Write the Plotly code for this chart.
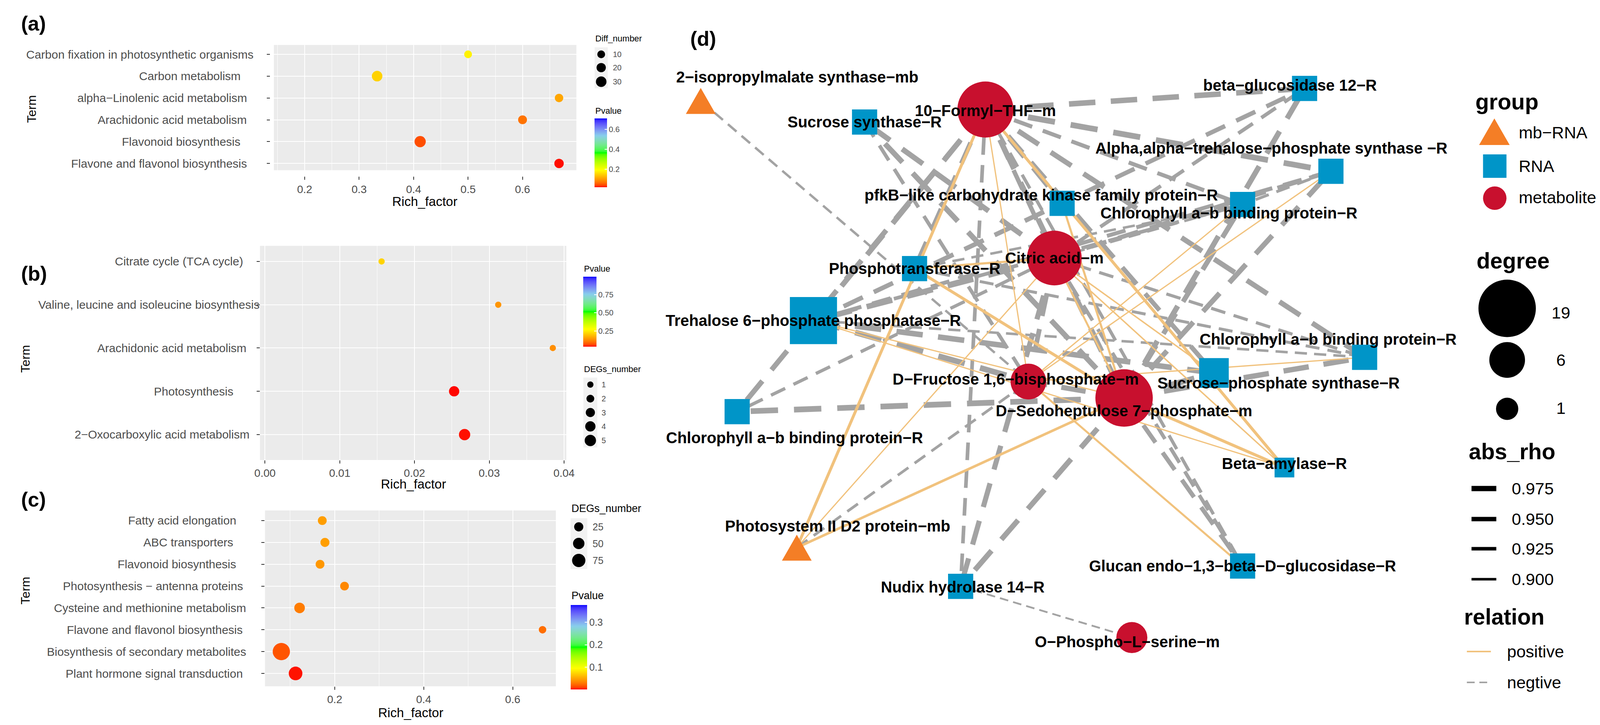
import math
import plotly.graph_objects as go

W, H = 4142, 1855
FONT = "Liberation Sans, Arial, Helvetica, sans-serif"
MINUS = "\u2212"

# ---------------- panel (a) data ----------------
a_terms = [
    "Carbon fixation in photosynthetic organisms",
    "Carbon metabolism    ",
    "alpha-Linolenic acid metabolism  ",
    "Arachidonic acid metabolism  ",
    "Flavonoid biosynthesis    ",
    "Flavone and flavonol biosynthesis  ",
]
a_rich = [0.500, 0.333, 0.667, 0.600, 0.412, 0.667]
a_diff_number = [10, 30, 14, 17, 36, 21]
a_pvalue = [0.18, 0.15, 0.11, 0.068, 0.044, 0.023]
a_x_ticks = [0.2, 0.3, 0.4, 0.5, 0.6]
a_size_breaks = [10, 20, 30]
a_p_breaks = [0.2, 0.4, 0.6]

# ---------------- panel (b) data ----------------
b_terms = [
    "Citrate cycle (TCA cycle)     ",
    "Valine, leucine and isoleucine biosynthesis",
    "Arachidonic acid metabolism    ",
    "Photosynthesis        ",
    "2-Oxocarboxylic acid metabolism   ",
]
b_rich = [0.0156, 0.0312, 0.0385, 0.0253, 0.0267]
b_degs_number = [1, 1, 1, 4, 5]
b_pvalue = [0.215, 0.138, 0.130, 0.034, 0.037]
b_x_ticks = [0.00, 0.01, 0.02, 0.03, 0.04]
b_size_breaks = [1, 2, 3, 4, 5]
b_p_breaks = [0.25, 0.50, 0.75]

# ---------------- panel (c) data ----------------
c_terms = [
    "Fatty acid elongation   ",
    "ABC transporters    ",
    "Flavonoid biosynthesis   ",
    "Photosynthesis - antenna proteins ",
    "Cysteine and methionine metabolism",
    "Flavone and flavonol biosynthesis ",
    "Biosynthesis of secondary metabolites",
    "Plant hormone signal transduction ",
]
c_rich = [0.172, 0.178, 0.167, 0.222, 0.121, 0.667, 0.080, 0.112]
c_degs_number = [22, 24, 22, 21, 40, 10, 140, 80]
c_pvalue = [0.046, 0.046, 0.043, 0.036, 0.031, 0.025, 0.016, 0.003]
c_x_ticks = [0.2, 0.4, 0.6]
c_size_breaks = [25, 50, 75]
c_p_breaks = [0.1, 0.2, 0.3]

# ---------------- panel (d) network data ----------------
node_id = ["IP", "F", "SS", "BG", "AA", "PK", "CU", "C", "PT", "TP",
           "CR", "SP", "DF", "DS", "CL", "BA", "PS", "GL", "NU", "OP"]
node_label = [
    "2-isopropylmalate synthase-mb", "10-Formyl-THF-m", "Sucrose synthase-R",
    "beta-glucosidase 12-R", "Alpha,alpha-trehalose-phosphate synthase -R",
    "pfkB-like carbohydrate kinase family protein-R", "Chlorophyll a-b binding protein-R",
    "Citric acid-m", "Phosphotransferase-R", "Trehalose 6-phosphate phosphatase-R",
    "Chlorophyll a-b binding protein-R", "Sucrose-phosphate synthase-R",
    "D-Fructose 1,6-bisphosphate-m", "D-Sedoheptulose 7-phosphate-m",
    "Chlorophyll a-b binding protein-R", "Beta-amylase-R", "Photosystem II D2 protein-mb",
    "Glucan endo-1,3-beta-D-glucosidase-R", "Nudix hydrolase 14-R", "O-Phospho-L-serine-m",
]
node_group = ["mb-RNA", "metabolite", "RNA", "RNA", "RNA", "RNA", "RNA", "metabolite", "RNA", "RNA",
              "RNA", "RNA", "metabolite", "metabolite", "RNA", "RNA", "mb-RNA", "RNA", "RNA", "metabolite"]
node_x = [0.37, 7.72, 4.60, 15.96, 16.64, 9.70, 14.36, 9.50, 5.89, 3.28,
          17.51, 13.62, 8.83, 11.30, 1.31, 15.44, 2.85, 14.36, 7.08, 11.50]
node_y = [15.12, 14.90, 14.58, 15.44, 13.32, 12.50, 12.47, 11.10, 10.83, 9.50,
          8.56, 8.16, 7.94, 7.52, 7.17, 5.74, 3.69, 3.22, 2.70, 1.39]
node_degree = [1, 18, 3, 3, 3, 3, 3, 17, 3, 16, 3, 5, 6, 19, 3, 1, 1, 3, 3, 4]

edge_from = ["IP", "F", "F", "F", "F", "F", "F", "F", "F", "F", "F", "F", "F", "F",
             "C", "C", "C", "C", "C", "C", "C", "C", "C", "C",
             "DS", "DS", "DS", "DS", "DS", "DS", "DS", "DS", "DS", "DS",
             "TP", "TP", "TP", "TP", "TP", "TP", "TP", "PT", "PT", "AA", "SS", "PS", "NU",
             "F", "F", "F", "PT", "PT", "TP", "TP", "PS", "PS", "DF", "C", "PK", "AA", "CU", "CR",
             "DS", "C", "C"]
edge_to = ["DF", "BG", "AA", "CU", "CR", "TP", "CL", "NU", "DS", "PT", "PK", "C", "SP", "GL",
           "TP", "CL", "BG", "CU", "CR", "NU", "GL", "SS", "AA", "DF",
           "SS", "BG", "AA", "CU", "CR", "CL", "NU", "GL", "SP", "DF",
           "DF", "SP", "PK", "AA", "CR", "CU", "BG", "CR", "CU", "CU", "DF", "DF", "OP",
           "PS", "BA", "DF", "DS", "C", "DS", "BA", "C", "DS", "GL", "DS", "DS", "DF", "DF", "DF",
           "BA", "BA", "SP"]
edge_rho = [0.895, 0.980, 0.985, 0.940, 0.970, 0.975, 0.970, 0.930, 0.975, 0.960, 0.965, 0.950, 0.955, 0.920,
            0.980, 0.920, 0.930, 0.900, 0.915, 0.970, 0.930, 0.975, 0.950, 0.960,
            0.975, 0.975, 0.970, 0.965, 0.975, 0.985, 0.975, 0.950, 0.990, 0.970,
            0.985, 0.980, 0.950, 0.940, 0.900, 0.930, 0.950, 0.910, 0.900, 0.910, 0.930, 0.905, 0.880,
            0.910, 0.910, 0.865, 0.910, 0.890, 0.865, 0.865, 0.865, 0.900, 0.885, 0.885, 0.890,
            0.865, 0.865, 0.865, 0.910, 0.870, 0.870]
edge_relation = ["negtive"] * 47 + ["positive"] * 18

degree_breaks = [19, 6, 1]
rho_breaks = [0.975, 0.950, 0.925, 0.900]
group_levels = ["mb-RNA", "RNA", "metabolite"]
relation_levels = ["positive", "negtive"]

# ---------------- styles ----------------
GROUP_COLOR = {"mb-RNA": "#F47E26", "RNA": "#0095C8", "metabolite": "#C8102E"}
REL_COLOR = {"positive": "#F1C27D", "negtive": "#A3A3A3"}
TEXT_GREY = "#4D4D4D"
PANEL_BG = "#EBEBEB"

# label offsets (pixels) relative to node centre, as placed in the original figure
label_shift = {"IP": (247, 61), "F": (0, -3), "SS": (0, 0), "BG": (-37, 8), "AA": (-152, 59),
               "PK": (-54, 21), "CU": (-35, -22), "C": (0, 0), "PT": (0, 0), "TP": (0, 0),
               "CR": (-93, 46), "SP": (165, -26), "DF": (-33, 6), "DS": (0, -33), "CL": (147, -67),
               "BA": (0, 10), "PS": (105, 55), "GL": (0, 0), "NU": (5, -2), "OP": (-11, -11)}


def disp(s):
    n = len(s) - len(s.rstrip())
    return s.rstrip().replace("-", MINUS) + "\u00a0" * n


# ---- Lab interpolated gradient (like ggplot2 scale_colour_gradientn) ----
def _hex(c):
    c = c.lstrip("#")
    return [int(c[i:i + 2], 16) for i in (0, 2, 4)]


def _lin(v):
    v = v / 255.0
    return v / 12.92 if v <= 0.04045 else ((v + 0.055) / 1.055) ** 2.4


def _f(t):
    return t ** (1 / 3) if t > 0.008856 else 7.787 * t + 16 / 116


def _finv(t):
    return t ** 3 if t ** 3 > 0.008856 else (t - 16 / 116) / 7.787


def rgb2lab(c):
    r, g, b = [_lin(v) for v in _hex(c)]
    X = (0.4124 * r + 0.3576 * g + 0.1805 * b) / 0.95047
    Y = 0.2126 * r + 0.7152 * g + 0.0722 * b
    Z = (0.0193 * r + 0.1192 * g + 0.9505 * b) / 1.08883
    return 116 * _f(Y) - 16, 500 * (_f(X) - _f(Y)), 200 * (_f(Y) - _f(Z))


def lab2rgb(L, a, b):
    fy = (L + 16) / 116
    X = 0.95047 * _finv(fy + a / 500)
    Y = _finv(fy)
    Z = 1.08883 * _finv(fy - b / 200)
    rgb = [3.2406 * X - 1.5372 * Y - 0.4986 * Z,
           -0.9689 * X + 1.8758 * Y + 0.0415 * Z,
           0.0557 * X - 0.2040 * Y + 1.0570 * Z]
    out = []
    for v in rgb:
        v = 12.92 * v if v <= 0.0031308 else 1.055 * (max(v, 0) ** (1 / 2.4)) - 0.055
        out.append(int(round(max(0, min(1, v)) * 255)))
    return "rgb(%d,%d,%d)" % tuple(out)


def gradientn(colors, n=60):
    labs = [rgb2lab(c) for c in colors]
    k = len(colors) - 1
    scale = []
    for i in range(n + 1):
        t = i / n
        seg = min(int(t * k), k - 1)
        u = t * k - seg
        L = [labs[seg][j] + (labs[seg + 1][j] - labs[seg][j]) * u for j in range(3)]
        scale.append([t, lab2rgb(*L)])
    return scale


CS = gradientn(["#FF0000", "#FFFF00", "#00FF00", "#87CEEB", "#0000FF"])


def size_a(v):
    return math.sqrt(236 + 16.4 * v)


def size_b(v):
    return math.sqrt(110 + 146 * v)


def size_c(v):
    return math.sqrt(244 + 12.2 * v)


def node_diam(deg):
    return math.sqrt(2229 + 1020 * deg)


def edge_width(rho):
    return max(2.0, 6.5 + (rho - 0.9) * 95)


def dash_for(w):
    return "%.1fpx,%.1fpx" % (4.8 * w, 2.8 * w)


def px(xp, yp):
    return xp / W, 1 - yp / H


fig = go.Figure()
annotations = []
shapes = []


def ann(text, xp, yp, size, color="black", xanchor="left", yanchor="middle", bold=False, angle=0):
    x, y = px(xp, yp)
    annotations.append(dict(text=("<b>%s</b>" % text) if bold else text, x=x, y=y, xref="paper",
                            yref="paper", showarrow=False, xanchor=xanchor, yanchor=yanchor,
                            textangle=angle, font=dict(family=FONT, size=size, color=color)))


def colorbar(xp, ytop, length, thick, vals, texts, fsize):
    return dict(x=xp / W, xanchor="left", y=1 - ytop / H, yanchor="top", len=length, lenmode="pixels",
                thickness=thick, thicknessmode="pixels", xpad=0, ypad=0, outlinewidth=0,
                tickmode="array", tickvals=vals, ticktext=texts, ticks="inside", ticklen=6,
                tickwidth=2, tickcolor="white",
                tickfont=dict(family=FONT, size=fsize, color=TEXT_GREY), title=dict(text=""))


# ---------------- enrichment panels ----------------
panels = [
    dict(key="", terms=a_terms, rich=a_rich, cnt=a_diff_number, p=a_pvalue, sizef=size_a,
         xdom=(685, 1466), ydom=(107, 427.5), xr=(0.1435, 0.6989), yr=(-0.31, 5.43),
         xt=a_x_ticks, xtt=["0.2", "0.3", "0.4", "0.5", "0.6"],
         minor=[0.15, 0.25, 0.35, 0.45, 0.55, 0.65], free=True, xpos=443, ypos=675, lab_x=634.5,
         cmin=0.02, cmax=0.71, cb=(1513, 295, 176, 32), pb=a_p_breaks, pbt=["0.2", "0.4", "0.6"], cbf=20),
    dict(key="2", terms=b_terms, rich=b_rich, cnt=b_degs_number, p=b_pvalue, sizef=size_b,
         xdom=(649, 1440), ydom=(621, 1169), xr=(-0.00067, 0.04031), yr=(-0.587, 4.36),
         xt=b_x_ticks, xtt=["0.00", "0.01", "0.02", "0.03", "0.04"],
         minor=[0.005, 0.015, 0.025, 0.035], free=False, lab_x=649,
         cmin=0.032, cmax=0.996, cb=(1484, 700, 179, 34), pb=b_p_breaks, pbt=["0.25", "0.50", "0.75"], cbf=20),
    dict(key="3", terms=c_terms, rich=c_rich, cnt=c_degs_number, p=c_pvalue, sizef=size_c,
         xdom=(662, 1413), ydom=(1298, 1748), xr=(0.0433, 0.697), yr=(-0.59, 7.465),
         xt=c_x_ticks, xtt=["0.2", "0.4", "0.6"],
         minor=[0.1, 0.3, 0.5], free=False, lab_x=615,
         cmin=0.0007, cmax=0.377, cb=(1451, 1540, 216, 42), pb=c_p_breaks, pbt=["0.1", "0.2", "0.3"], cbf=25),
]

layout_axes = {}
for pn in panels:
    k = pn["key"]
    xa, ya = "x" + k, "y" + k
    fig.add_trace(go.Scatter(
        x=pn["rich"], y=pn["terms"], xaxis=xa, yaxis=ya, mode="markers", hoverinfo="skip",
        cliponaxis=False, opacity=1,
        marker=dict(size=[pn["sizef"](v) for v in pn["cnt"]], color=pn["p"], colorscale=CS,
                    cmin=pn["cmin"], cmax=pn["cmax"], showscale=True, line=dict(width=0), opacity=1,
                    colorbar=colorbar(*pn["cb"], pn["pb"], pn["pbt"], pn["cbf"]))))
    xaxis = dict(domain=[pn["xdom"][0] / W, pn["xdom"][1] / W], range=list(pn["xr"]),
                 tickmode="array", tickvals=pn["xt"], ticktext=pn["xtt"], ticks="outside",
                 ticklen=8, tickwidth=2, tickcolor="#333333", showgrid=True, gridcolor="white",
                 gridwidth=2.4, zeroline=False, showline=False,
                 minor=dict(tickvals=pn["minor"], showgrid=True, gridcolor="white", gridwidth=1.2, ticks=""),
                 tickfont=dict(family=FONT, size=28, color=TEXT_GREY), fixedrange=True)
    yaxis = dict(domain=[1 - pn["ydom"][1] / H, 1 - pn["ydom"][0] / H], type="category",
                 categoryorder="array", categoryarray=pn["terms"][::-1], range=list(pn["yr"]),
                 ticks="outside", ticklen=8, tickwidth=2, tickcolor="#333333", showticklabels=False,
                 showgrid=True, gridcolor="white", gridwidth=2.4, zeroline=False, showline=False,
                 fixedrange=True)
    if pn["free"]:
        xaxis.update(anchor="free", position=1 - pn["xpos"] / H)
        yaxis.update(anchor="free", position=pn["ypos"] / W)
    else:
        xaxis.update(anchor=ya)
        yaxis.update(anchor=xa)
    layout_axes["xaxis" + k] = xaxis
    layout_axes["yaxis" + k] = yaxis
    shapes.append(dict(type="rect", xref=xa + " domain", yref=ya + " domain", x0=0, x1=1, y0=0, y1=1,
                       fillcolor=PANEL_BG, line=dict(width=0), layer="below"))
    for t in pn["terms"]:
        annotations.append(dict(text=disp(t), x=pn["lab_x"] / W, y=t, xref="paper", yref=ya,
                                showarrow=False, xanchor="right", yanchor="middle",
                                font=dict(family=FONT, size=30, color=TEXT_GREY)))

# axis titles & panel letters
ann("Rich_factor", 1075, 507, 33, xanchor="center")
ann("Rich_factor", 1045, 1230, 33, xanchor="center")
ann("Rich_factor", 1038, 1815, 33, xanchor="center")
ann("Term", 60, 271, 32, xanchor="center", angle=-90)
ann("Term", 43, 910, 32, xanchor="center", angle=-90)
ann("Term", 43, 1503, 32, xanchor="center", angle=-90)
ann("(a)", 65, 52, 52, xanchor="center", bold=True)
ann("(b)", 66, 692, 52, xanchor="center", bold=True)
ann("(c)", 65, 1270, 52, xanchor="center", bold=True)
ann("(d)", 1793, 91, 52, xanchor="center", bold=True)

# ---------------- legends of enrichment panels (overlay pixel axis) ----------------
OV = dict(xaxis="x5", yaxis="y5", hoverinfo="skip", showlegend=False, cliponaxis=False, opacity=1)


def key_rect(x0, y0, x1, y1):
    shapes.append(dict(type="rect", xref="x5", yref="y5", x0=x0, x1=x1, y0=y0, y1=y1,
                       fillcolor="#F2F2F2", line=dict(width=0), layer="below"))


def black_dots(xs, ys, sizes):
    fig.add_trace(go.Scatter(x=xs, y=ys, mode="markers",
                             marker=dict(size=sizes, color="#000000", opacity=1, line=dict(width=0)), **OV))


# (a)
ann("Diff_number", 1513, 91, 22)
key_rect(1513, 113, 1547, 218)
a_key_y = [131, 165, 201]
black_dots([1530] * 3, a_key_y, [size_a(v) for v in a_size_breaks])
for v, yy in zip(a_size_breaks, a_key_y):
    ann(str(v), 1558, yy, 20, color=TEXT_GREY)
ann("Pvalue", 1513, 275, 22)

# (b)
ann("Pvalue", 1484, 680, 22)
ann("DEGs_number", 1484, 937, 22)
key_rect(1484, 958, 1520, 1137)
b_key_y = [976, 1012, 1047.5, 1083, 1119]
black_dots([1502] * 5, b_key_y, [size_b(v) for v in b_size_breaks])
for v, yy in zip(b_size_breaks, b_key_y):
    ann(str(v), 1529, yy, 20, color=TEXT_GREY)

# (c)
ann("DEGs_number", 1451, 1293, 27)
key_rect(1451, 1318, 1494, 1448)
c_key_y = [1340, 1382.5, 1426]
black_dots([1472] * 3, c_key_y, [size_c(v) for v in c_size_breaks])
for v, yy in zip(c_size_breaks, c_key_y):
    ann(str(v), 1506, yy, 25, color=TEXT_GREY)
ann("Pvalue", 1451, 1516, 27)

# ---------------- network (d) ----------------
NET = dict(xaxis="x4", yaxis="y4", hoverinfo="skip", showlegend=False, cliponaxis=False, opacity=1)
idx = {n: i for i, n in enumerate(node_id)}
order = sorted(range(len(edge_from)), key=lambda i: 0 if edge_relation[i] == "negtive" else 1)
for i in order:
    s, t = idx[edge_from[i]], idx[edge_to[i]]
    w = edge_width(edge_rho[i])
    rel = edge_relation[i]
    fig.add_trace(go.Scatter(
        x=[node_x[s], node_x[t]], y=[node_y[s], node_y[t]], mode="lines",
        line=dict(color=REL_COLOR[rel], width=w, dash=dash_for(w) if rel == "negtive" else "solid"),
        **NET))

UNIT = 100.0  # pixels per layout unit
for i, g in enumerate(node_group):
    d = node_diam(node_degree[i])
    if g == "mb-RNA":
        side = 1.347 * d
        hh = side * 0.866
        xs = [node_x[i] - side / 2 / UNIT, node_x[i] + side / 2 / UNIT, node_x[i], node_x[i] - side / 2 / UNIT]
        ys = [node_y[i] - hh / 2 / UNIT, node_y[i] - hh / 2 / UNIT, node_y[i] + hh / 2 / UNIT, node_y[i] - hh / 2 / UNIT]
        fig.add_trace(go.Scatter(x=xs, y=ys, mode="lines", fill="toself", fillcolor=GROUP_COLOR[g],
                                 line=dict(width=0, color=GROUP_COLOR[g]), **NET))
    else:
        sym = "square" if g == "RNA" else "circle"
        size = 0.886 * d if g == "RNA" else d
        fig.add_trace(go.Scatter(x=[node_x[i]], y=[node_y[i]], mode="markers",
                                 marker=dict(symbol=sym, size=size, color=GROUP_COLOR[g], line=dict(width=0)),
                                 **NET))

for i, n in enumerate(node_id):
    dx, dy = label_shift[n]
    annotations.append(dict(text="<b>%s</b>" % node_label[i].replace("-", MINUS), x=node_x[i], y=node_y[i],
                            xref="x4", yref="y4", xshift=dx, yshift=dy, showarrow=False,
                            xanchor="center", yanchor="middle",
                            font=dict(family=FONT, size=40, color="black")))

# ---------------- legend (d) ----------------
LEG_TXT = 43
ann("group", 3785, 252, 57, bold=True)
group_key_y = [329, 417, 499]
tri_w, tri_h = 79, 68
fig.add_trace(go.Scatter(x=[3836 - tri_w / 2, 3836 + tri_w / 2, 3836, 3836 - tri_w / 2],
                         y=[329 + tri_h / 2, 329 + tri_h / 2, 329 - tri_h / 2, 329 + tri_h / 2],
                         mode="lines", fill="toself", fillcolor=GROUP_COLOR["mb-RNA"],
                         line=dict(width=0, color=GROUP_COLOR["mb-RNA"]), **OV))
fig.add_trace(go.Scatter(x=[3837], y=[group_key_y[1]], mode="markers",
                         marker=dict(symbol="square", size=60, color=GROUP_COLOR["RNA"]), **OV))
fig.add_trace(go.Scatter(x=[3837], y=[group_key_y[2]], mode="markers",
                         marker=dict(symbol="circle", size=60, color=GROUP_COLOR["metabolite"]), **OV))
for g, yy in zip(group_levels, [331, 417, 497]):
    ann(g.replace("-", MINUS), 3897, yy, LEG_TXT)

ann("degree", 3788, 659, 57, bold=True)
deg_key_y = [781, 913, 1038]
black_dots([3869] * 3, deg_key_y, [node_diam(v) for v in degree_breaks])
for v, yy in zip(degree_breaks, [792, 913, 1036]):
    ann(str(v), 4008, yy, LEG_TXT, xanchor="center")

ann("abs_rho", 3768, 1147, 57, bold=True)
rho_key_y = [1242, 1320, 1396, 1474]
for v, yy in zip(rho_breaks, rho_key_y):
    fig.add_trace(go.Scatter(x=[3777, 3841], y=[yy, yy], mode="lines",
                             line=dict(color="#000000", width=edge_width(v)), **OV))
    ann("%.3f" % v, 3879, yy, LEG_TXT)

ann("relation", 3756, 1570, 57, bold=True)
rel_key_y = [1659, 1738]
for r, yy in zip(relation_levels, rel_key_y):
    fig.add_trace(go.Scatter(x=[3765, 3827], y=[yy, yy], mode="lines",
                             line=dict(color=REL_COLOR[r], width=4,
                                       dash="20px,12px" if r == "negtive" else "solid"), **OV))
    ann(r, 3867, yy, LEG_TXT)

# ---------------- layout ----------------
layout_axes["xaxis4"] = dict(domain=[1650 / W, 3750 / W], range=[-1, 20], visible=False, fixedrange=True, anchor="y4")
layout_axes["yaxis4"] = dict(domain=[0.05, 0.95], range=[0, 16.695], visible=False, fixedrange=True, anchor="x4")
layout_axes["xaxis5"] = dict(domain=[0, 1], range=[0, W], visible=False, fixedrange=True, anchor="y5")
layout_axes["yaxis5"] = dict(domain=[0, 1], range=[H, 0], visible=False, fixedrange=True, anchor="x5")

fig.update_layout(width=W, height=H, margin=dict(l=0, r=0, t=0, b=0), paper_bgcolor="white",
                  plot_bgcolor="rgba(0,0,0,0)", showlegend=False, font=dict(family=FONT),
                  annotations=annotations, shapes=shapes, **layout_axes)

fig.write_html("out.html")
